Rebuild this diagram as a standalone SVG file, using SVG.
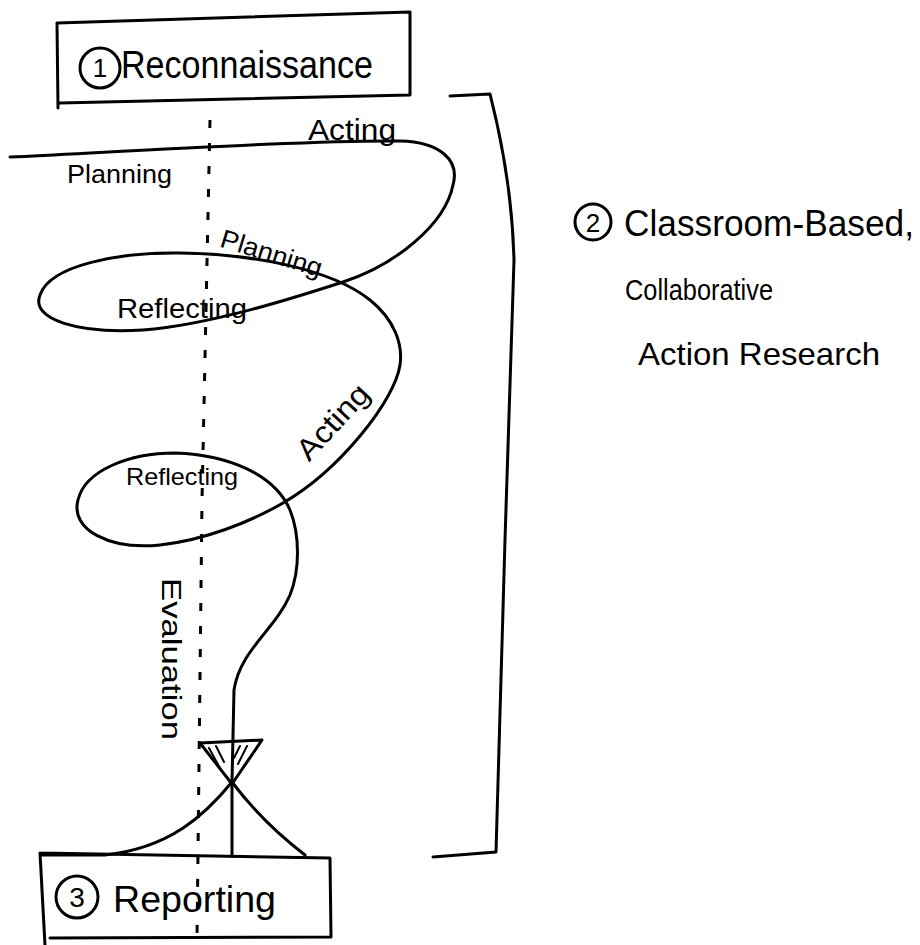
<svg xmlns="http://www.w3.org/2000/svg" width="920" height="945" viewBox="0 0 920 945">
<style>
.ink{fill:none;stroke:#000;stroke-width:3;stroke-linecap:round;stroke-linejoin:round}
.thin{fill:none;stroke:#000;stroke-width:2;stroke-linecap:round}
.dash{fill:none;stroke:#000;stroke-width:3;stroke-dasharray:8 15}
.t{font-family:"Liberation Sans","DejaVu Sans",sans-serif;fill:#000}
</style>
<rect width="920" height="945" fill="#fff"/>
<g id="reconnaissance">
<path class="ink" d="M57,23 L410,12 L410,95 L60,103 M57,23 L58,108"/>
<circle class="ink" cx="100" cy="68" r="20"/>
<text class="t" x="100" y="77" font-size="26" text-anchor="middle">1</text>
<text class="t" x="121" y="78" font-size="38" textLength="252" lengthAdjust="spacingAndGlyphs">Reconnaissance</text>
</g>
<g id="classroom-based">
<path class="ink" d="M450,96 L490,94 Q512,180 514,260 L505,540 L496,852 L433,857"/>
<circle class="ink" cx="593" cy="222" r="18"/>
<text class="t" x="593" y="232" font-size="26" text-anchor="middle">2</text>
<text class="t" x="624" y="236" font-size="36" textLength="290" lengthAdjust="spacingAndGlyphs">Classroom-Based,</text>
<text class="t" x="625" y="300" font-size="29" textLength="148" lengthAdjust="spacingAndGlyphs">Collaborative</text>
<text class="t" x="638" y="365" font-size="32" textLength="242" lengthAdjust="spacingAndGlyphs">Action Research</text>
</g>
<g id="reporting">
<path class="ink" d="M40,853 L330,858 L331,937 L50,938 M40,853 L45,945"/>
<circle class="ink" cx="77" cy="897" r="21"/>
<text class="t" x="77" y="907" font-size="28" text-anchor="middle">3</text>
<text class="t" x="113" y="912" font-size="36" textLength="163" lengthAdjust="spacingAndGlyphs">Reporting</text>
</g>
<g id="connectors">
<path class="dash" d="M210,120 L202,500 L197,940"/>
<path class="ink" d="M10,157 C150,150 320,140 400,141 C440,142 460,160 453,185 C445,225 395,265 343,282 C300,296 210,325 143,330 C80,334 30,320 40,295 C50,265 120,252 180,253 C250,254 330,268 370,300 C395,320 403,345 400,365 C395,400 340,470 283,503 C250,522 205,540 160,545 C110,550 70,530 78,500 C85,470 130,453 175,453 C230,455 275,475 290,510 C300,535 300,570 290,595 C275,630 240,650 234,690 L232,782"/>
<path class="ink" d="M200,743 L262,740 L232,784 Z"/>
<path class="thin" d="M209,748 L221,770 M216,746 L224,762 M247,746 L238,764 M240,746 L234,758"/>
<path class="ink" d="M232,782 C205,815 170,848 105,855 L42,855"/>
<path class="ink" d="M232,782 Q262,822 305,855"/>
<path class="ink" d="M232,782 L232,856"/>
</g>
<g id="labels">
<text class="t" x="308" y="140" font-size="30" textLength="88" lengthAdjust="spacingAndGlyphs">Acting</text>
<text class="t" x="67" y="183" font-size="26" textLength="105" lengthAdjust="spacingAndGlyphs">Planning</text>
<text class="t" x="271" y="262" font-size="26" text-anchor="middle" textLength="105" lengthAdjust="spacingAndGlyphs" transform="rotate(17 271 255)">Planning</text>
<text class="t" x="117" y="318" font-size="28" textLength="130" lengthAdjust="spacingAndGlyphs">Reflecting</text>
<text class="t" x="333" y="432" font-size="30" text-anchor="middle" textLength="92" lengthAdjust="spacingAndGlyphs" transform="rotate(-47 333 422)">Acting</text>
<text class="t" x="126" y="485" font-size="24" textLength="112" lengthAdjust="spacingAndGlyphs">Reflecting</text>
<text class="t" x="162" y="578" font-size="28" textLength="162" lengthAdjust="spacingAndGlyphs" transform="rotate(90 162 578)">Evaluation</text>
</g>
</svg>
